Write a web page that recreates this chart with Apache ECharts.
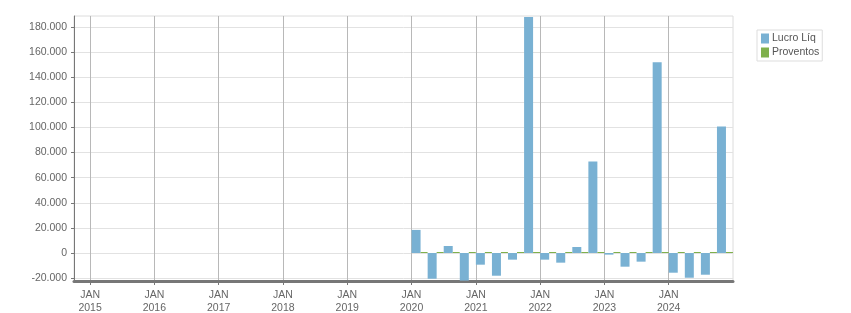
<!DOCTYPE html>
<html><head><meta charset="utf-8">
<script src="https://cdn.jsdelivr.net/npm/echarts@6/dist/echarts.min.js"></script>
<style>html,body{margin:0;padding:0;background:#fff}#c{width:851px;height:313px}</style>
</head><body><div id="c"></div>
<script>
var quarters = ['2020-1','2020-2','2020-3','2020-4','2021-1','2021-2','2021-3','2021-4','2022-1','2022-2','2022-3','2022-4','2023-1','2023-2','2023-3','2023-4','2024-1','2024-2','2024-3','2024-4'];
var lucroLiq = [18400,-20500,5600,-22000,-9300,-18100,-5300,188000,-5300,-7700,4800,72800,-1300,-10900,-6900,152000,-15700,-19700,-17300,100800];
var proventos = [0,0,0,0,0,0,0,0,0,0,0,0,0,0,0,0,0,0,0,0];
var yearTicks = [2015,2016,2017,2018,2019,2020,2021,2022,2023,2024];
var yTicks = [-20000,0,20000,40000,60000,80000,100000,120000,140000,160000,180000];

function qx(q){var p=q.split('-');return +p[0]+(+p[1]-1)/4+0.125;}
function fmt(v){var s=Math.abs(Math.round(v)).toString().replace(/\B(?=(\d{3})+(?!\d))/g,'.');return (v<0?'-':'')+s;}
var font = 'Liberation Sans';
var chart = echarts.init(document.getElementById('c'));
chart.setOption({
  animation:false,
  textStyle:{fontFamily:font},
  grid:{left:74,right:118,top:16,bottom:32,outerBoundsMode:'none',containLabel:false,show:true,borderColor:'#dcdcdc',borderWidth:1},
  legend:{orient:'vertical',left:757,top:30,itemWidth:8,itemHeight:10,itemGap:3,padding:[3,3,3,4],
    borderColor:'#dddddd',borderWidth:1,icon:'rect',
    textStyle:{fontFamily:font,fontSize:10.5,color:'#555',padding:[0,0,0,-2]},
    data:['Lucro Líq','Proventos']},
  xAxis:{type:'value',min:2014.75,max:2025,
    axisLine:{onZero:false,lineStyle:{color:'#777',width:3}},
    axisTick:{show:true,length:4,customValues:yearTicks,lineStyle:{color:'#777'}},
    axisLabel:{customValues:yearTicks,color:'#666',fontSize:10.5,lineHeight:13,margin:8,
      formatter:function(v){return 'JAN\n'+Math.round(v);}},
    splitLine:{show:true,lineStyle:{color:'#b8b8b8',width:1}}},
  yAxis:{type:'value',min:-22305,max:188800,
    axisLine:{show:true,onZero:false,lineStyle:{color:'#777',width:1}},
    axisTick:{show:true,length:3,customValues:yTicks,lineStyle:{color:'#777'}},
    axisLabel:{customValues:yTicks,color:'#666',fontSize:10.5,margin:7,formatter:fmt},
    splitLine:{show:true,lineStyle:{color:'#e2e2e2',width:1}}},
  series:[
    {name:'Lucro Líq',type:'bar',barWidth:9,barGap:'0%',
      itemStyle:{color:'#79b1d3'},
      data:quarters.map(function(q,i){return [qx(q),lucroLiq[i]];})},
    {name:'Proventos',type:'bar',barWidth:7,barGap:'0%',barMinHeight:1,z:5,
      itemStyle:{color:'#7fb04c'},
      data:quarters.map(function(q,i){return [qx(q),proventos[i]];})}
  ]
});
</script></body></html>
